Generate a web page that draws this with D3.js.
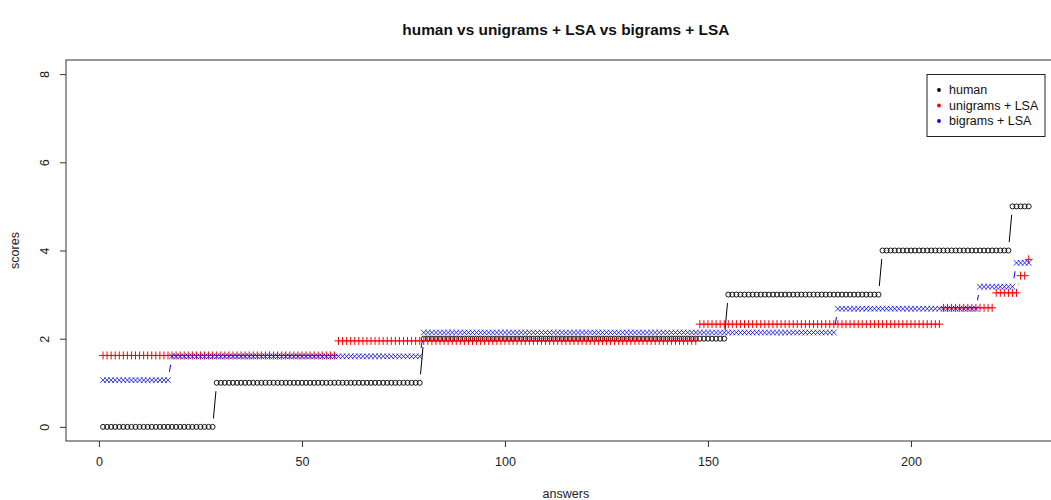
<!DOCTYPE html>
<html>
<head>
<meta charset="utf-8">
<script src="https://cdn.jsdelivr.net/npm/d3@7"></script>
<style>
  html, body { margin: 0; padding: 0; background: #fff; }
  svg { display: block; font-family: "Liberation Sans", Arial, sans-serif; }
</style>
</head>
<body>
<svg id="chart" width="1051" height="500"></svg>
<script>
// Sorted scores per answer, stored as run-length levels and counts
const humanLevels = [0, 1, 2, 3, 4, 5];
const humanCounts = [28, 51, 75, 38, 32, 5];

const unigramLevels = [1.62, 1.95, 2.33, 2.70, 3.04, 3.43, 3.80];
const unigramCounts = [58, 89, 60, 13, 6, 2, 1];

const bigramLevels = [1.06, 1.60, 2.14, 2.68, 3.18, 3.72];
const bigramCounts = [17, 62, 102, 35, 9, 4];

const xTicks = [0, 50, 100, 150, 200];
const yTicks = [0, 2, 4, 6, 8];

const seriesNames = ["human", "unigrams + LSA", "bigrams + LSA"];
const seriesColors = ["#000000", "#ff0000", "#0000ff"];

function expand(levels, counts) {
  const out = [];
  levels.forEach((v, i) => { for (let k = 0; k < counts[i]; k++) out.push(v); });
  return out.map((v, i) => ({ x: i + 1, y: v }));
}

const human = expand(humanLevels, humanCounts);
const unigrams = expand(unigramLevels, unigramCounts);
const bigrams = expand(bigramLevels, bigramCounts);

const n = human.length;
const pad = 0.04 * (n - 1);
const x = d3.scaleLinear().domain([1 - pad, n + pad]).range([66, 66 + (n - 1 + 2 * pad) * 4.06]);
const y = d3.scaleLinear().domain([-0.32, 8.32]).range([441, 60]);

const svg = d3.select("#chart");
const plot = svg.append("g");

// Connecting segments with gaps around each point (points + lines style)
function gappedLines(data, color) {
  const gap = 8.5;
  const g = plot.append("g").attr("stroke", color).attr("stroke-width", 1);
  for (let i = 1; i < data.length; i++) {
    const x0 = x(data[i - 1].x), y0 = y(data[i - 1].y);
    const x1 = x(data[i].x), y1 = y(data[i].y);
    const dx = x1 - x0, dy = y1 - y0, L = Math.hypot(dx, dy);
    if (L <= 2 * gap) continue;
    const ux = dx / L, uy = dy / L;
    g.append("line")
      .attr("x1", x0 + ux * gap).attr("y1", y0 + uy * gap)
      .attr("x2", x1 - ux * gap).attr("y2", y1 - uy * gap);
  }
}

// human: open circles
gappedLines(human, seriesColors[0]);
plot.append("g").selectAll("circle").data(human).join("circle")
  .attr("cx", d => x(d.x)).attr("cy", d => y(d.y)).attr("r", 2.5)
  .attr("fill", "none").attr("stroke", seriesColors[0]).attr("stroke-width", 0.9);

// unigrams + LSA: plus signs
gappedLines(unigrams, seriesColors[1]);
const s3 = 4.0;
plot.append("g").attr("stroke", seriesColors[1]).attr("stroke-width", 1)
  .selectAll("path").data(unigrams).join("path")
  .attr("d", d => {
    const cx = x(d.x), cy = y(d.y);
    return `M${cx - s3},${cy}H${cx + s3}M${cx},${cy - s3}V${cy + s3}`;
  });

// bigrams + LSA: crosses
gappedLines(bigrams, seriesColors[2]);
const s4 = 2.8;
plot.append("g").attr("stroke", seriesColors[2]).attr("stroke-width", 0.8)
  .selectAll("path").data(bigrams).join("path")
  .attr("d", d => {
    const cx = x(d.x), cy = y(d.y);
    return `M${cx - s4},${cy - s4}L${cx + s4},${cy + s4}M${cx - s4},${cy + s4}L${cx + s4},${cy - s4}`;
  });

// Plot frame
const [xr0, xr1] = x.range();
const [yr0, yr1] = y.range();
svg.append("rect")
  .attr("x", xr0).attr("y", yr1).attr("width", xr1 - xr0).attr("height", yr0 - yr1)
  .attr("fill", "none").attr("stroke", "#333").attr("stroke-width", 1);

// Axes
const xAxis = svg.append("g").attr("transform", `translate(0,${yr0})`)
  .call(d3.axisBottom(x).tickValues(xTicks).tickSize(6).tickPadding(10).tickFormat(d3.format("d")));
xAxis.select(".domain").remove();
xAxis.selectAll("line").attr("stroke", "#333");
xAxis.selectAll("text").attr("font-size", 12.5).attr("fill", "#222")
  .attr("font-family", "Liberation Sans, Arial, sans-serif");

const yAxis = svg.append("g").attr("transform", `translate(${xr0},0)`)
  .call(d3.axisLeft(y).tickValues(yTicks).tickSize(6).tickFormat(d3.format("d")));
yAxis.select(".domain").remove();
yAxis.selectAll("line").attr("stroke", "#333");
yAxis.selectAll("text")
  .attr("font-size", 12.5).attr("fill", "#222")
  .attr("font-family", "Liberation Sans, Arial, sans-serif")
  .attr("x", null).attr("dy", null)
  .attr("text-anchor", "middle")
  .attr("transform", "translate(-21,0) rotate(-90)")
  .attr("dominant-baseline", "central");

// Titles
const midX = (xr0 + xr1) / 2;
svg.append("text").attr("x", midX).attr("y", 35).attr("text-anchor", "middle")
  .attr("font-size", 15.4).attr("font-weight", "bold").attr("fill", "#111")
  .text("human vs unigrams + LSA vs bigrams + LSA");
svg.append("text").attr("x", midX).attr("y", 498).attr("text-anchor", "middle")
  .attr("font-size", 12.5).attr("fill", "#222").text("answers");
svg.append("text").attr("transform", `translate(19,${(yr0 + yr1) / 2}) rotate(-90)`)
  .attr("text-anchor", "middle").attr("font-size", 12.5).attr("fill", "#222").text("scores");

// Legend
const legend = svg.append("g");
legend.append("rect").attr("x", 927).attr("y", 74.5).attr("width", 118).attr("height", 62)
  .attr("fill", "#fff").attr("stroke", "#222").attr("stroke-width", 1);
seriesNames.forEach((name, i) => {
  const ly = 90 + i * 15.5;
  legend.append("circle").attr("cx", 939).attr("cy", ly).attr("r", 1.9).attr("fill", seriesColors[i]);
  legend.append("text").attr("x", 949).attr("y", ly).attr("dominant-baseline", "central")
    .attr("font-size", 12.5).attr("fill", "#111").text(name);
});
</script>
</body>
</html>
